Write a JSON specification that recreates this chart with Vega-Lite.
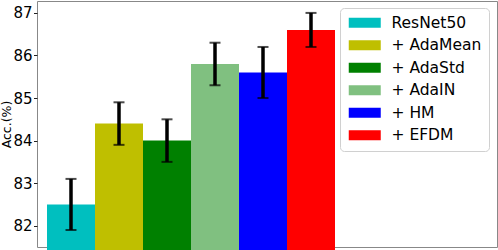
{
  "$schema": "https://vega.github.io/schema/vega-lite/v6.json",
  "width": 460,
  "height": 246,
  "autosize": {"type": "none"},
  "padding": {"left": 37, "top": 1, "right": 1, "bottom": 3},
  "config": {
    "font": "DejaVu Sans",
    "view": {"stroke": "#888", "strokeWidth": 1},
    "axis": {"grid": false}
  },
  "data": {
    "values": [
      {"method": "ResNet50", "acc": 82.5, "err": 0.6},
      {"method": "+ AdaMean", "acc": 84.4, "err": 0.5},
      {"method": "+ AdaStd", "acc": 84.0, "err": 0.5},
      {"method": "+ AdaIN", "acc": 85.8, "err": 0.5},
      {"method": "+ HM", "acc": 85.6, "err": 0.6},
      {"method": "+ EFDM", "acc": 86.6, "err": 0.4}
    ]
  },
  "encoding": {
    "x": {
      "field": "method",
      "type": "nominal",
      "sort": null,
      "axis": null,
      "scale": {"range": [10, 298], "paddingInner": 0, "paddingOuter": 0}
    }
  },
  "layer": [
    {
      "mark": {"type": "bar", "strokeWidth": 0},
      "encoding": {
        "y": {
          "field": "acc",
          "type": "quantitative",
          "title": "Acc.(%)",
          "scale": {"domain": [81.5, 87.28], "nice": false, "zero": false},
          "axis": {
            "values": [82, 83, 84, 85, 86, 87],
            "domain": false,
            "tickColor": "#222",
            "tickSize": 3.5,
            "tickWidth": 1,
            "labelPadding": 1.5,
            "labelFontSize": 15,
            "labelColor": "#000",
            "titleFontSize": 12.5,
            "titleFontWeight": "normal",
            "titleColor": "#000",
            "titleX": -24,
            "titleY": 123
          }
        },
        "color": {
          "field": "method",
          "type": "nominal",
          "sort": null,
          "scale": {
            "domain": ["ResNet50", "+ AdaMean", "+ AdaStd", "+ AdaIN", "+ HM", "+ EFDM"],
            "range": ["#00bfbf", "#bfbf00", "#008000", "#80c080", "#0000ff", "#ff0000"]
          },
          "legend": {
            "title": null,
            "orient": "none",
            "legendX": 303,
            "legendY": 7,
            "padding": 7,
            "strokeColor": "#d0d0d0",
            "fillColor": "#ffffff",
            "cornerRadius": 4,
            "symbolType": "M-3.2,-1H3.2V1H-3.2Z",
            "symbolSize": 100,
            "symbolOffset": 10,
            "symbolStrokeWidth": 0,
            "symbolOpacity": 1,
            "labelFontSize": 15.5,
            "labelColor": "#000",
            "labelOffset": 19,
            "rowPadding": 5.5
          }
        }
      }
    },
    {
      "mark": {
        "type": "errorbar",
        "color": "black",
        "ticks": {"size": 11, "thickness": 2, "color": "black"},
        "rule": {"strokeWidth": 3.5, "color": "black"}
      },
      "encoding": {
        "y": {"field": "acc", "type": "quantitative", "title": "Acc.(%)"},
        "yError": {"field": "err"}
      }
    }
  ]
}
